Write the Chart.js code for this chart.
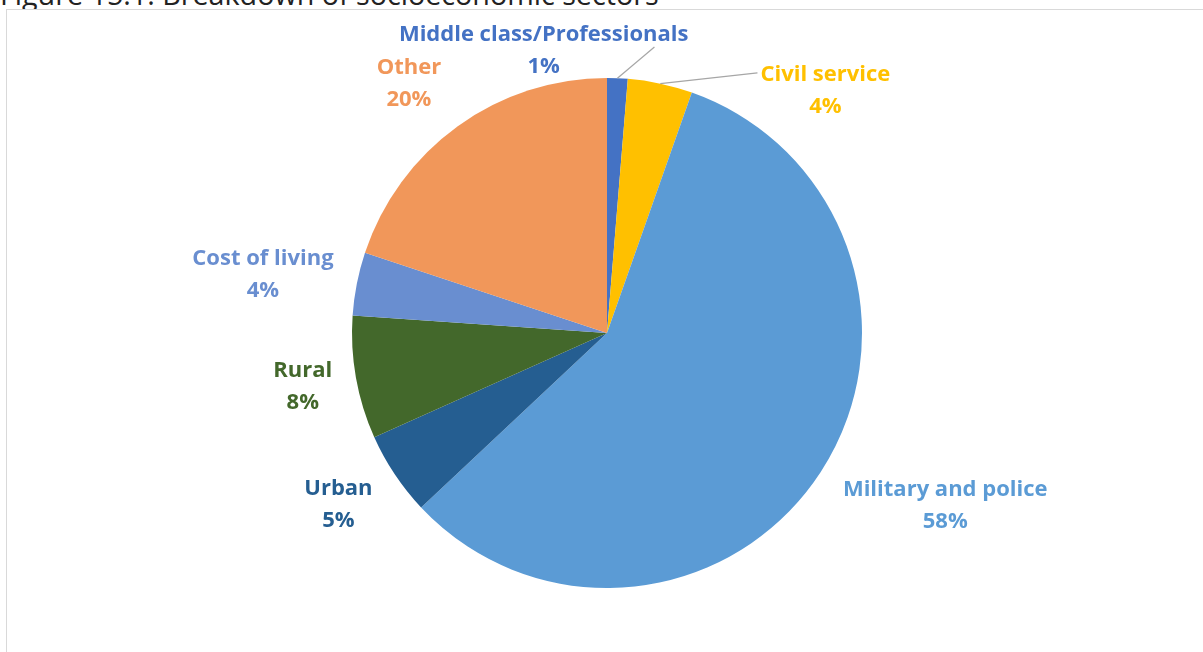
<!DOCTYPE html>
<html>
<head>
<meta charset="utf-8">
<script src="https://cdn.jsdelivr.net/npm/chart.js@4.4.0/dist/chart.umd.min.js"></script>
<style>
  body { margin: 0; background: #fff; overflow: hidden; }
  #title { position: absolute; left: 0; top: -21px; font: 28.7px/29px "Open Sans", sans-serif; color: #222; white-space: nowrap; }
  #frame { position: absolute; left: 6px; top: 9px; width: 1215px; height: 660px; border: 1px solid #d9d9d9; overflow: hidden; background: #fff; }
</style>
</head>
<body>
<div id="title">Figure 15.1: Breakdown of socioeconomic sectors</div>
<div id="frame"><canvas id="pie" width="1196" height="642"></canvas></div>
<script>
const sectors = ['Middle class/Professionals', 'Civil service', 'Military and police', 'Urban', 'Rural', 'Cost of living', 'Other'];
const shares = [1.3, 4.1, 57.6, 5.3, 7.8, 4.0, 19.9];
const colours = ['#4472C4', '#FFC000', '#5B9BD5', '#255E91', '#43682B', '#698ED0', '#F1975A'];

// where each label sits: px beyond the rim, and degrees turned off the slice middle
const labelPlace = [
    { gap: 34, turn: -15, leader: 'below' },
    { gap: 71, turn: 30, leader: 'left' },
    { gap: 125, turn: -6 },
    { gap: 64, turn: 1 },
    { gap: 54, turn: 0 },
    { gap: 94, turn: -1.5 },
    { gap: 63, turn: -2.7 }
];

const sliceLabels = {
    id: 'sliceLabels',
    afterDatasetsDraw(chart) {
        const ctx = chart.ctx;
        const meta = chart.getDatasetMeta(0);
        ctx.save();
        ctx.font = 'bold 22px "Open Sans", sans-serif';
        ctx.textAlign = 'center';
        ctx.textBaseline = 'middle';
        meta.data.forEach((arc, i) => {
            const p = arc.getProps(['x', 'y', 'startAngle', 'endAngle', 'outerRadius'], true);
            const mid = (p.startAngle + p.endAngle) / 2;
            const place = labelPlace[i];
            const a = mid + place.turn * Math.PI / 180;
            const d = p.outerRadius + place.gap;
            const cx = p.x + d * Math.cos(a);
            const cy = p.y + d * Math.sin(a);
            const line1 = sectors[i];
            const line2 = Math.round(shares[i]) + '%';
            if (place.leader) {
                const w = ctx.measureText(line1).width;
                const sx = p.x + p.outerRadius * Math.cos(mid);
                const sy = p.y + p.outerRadius * Math.sin(mid);
                let ex, ey;
                if (place.leader === 'left') { ex = cx - w / 2 - 3; ey = cy - 18; }
                else { ex = cx + w / 2 - 34; ey = cy - 4; }
                ctx.strokeStyle = '#a6a6a6';
                ctx.lineWidth = 1.2;
                ctx.beginPath();
                ctx.moveTo(sx, sy);
                ctx.lineTo(ex, ey);
                ctx.stroke();
            }
            ctx.fillStyle = colours[i];
            ctx.fillText(line1, cx, cy - 16);
            ctx.fillText(line2, cx, cy + 16);
        });
        ctx.restore();
    }
};

new Chart(document.getElementById('pie'), {
    type: 'pie',
    data: {
        labels: sectors,
        datasets: [{
            data: shares,
            backgroundColor: colours,
            borderWidth: 0,
            radius: 255
        }]
    },
    options: {
        responsive: false,
        animation: false,
        layout: { padding: { left: 4, top: 4 } },
        plugins: {
            legend: { display: false },
            tooltip: { enabled: false }
        }
    },
    plugins: [sliceLabels]
});
</script>
</body>
</html>
